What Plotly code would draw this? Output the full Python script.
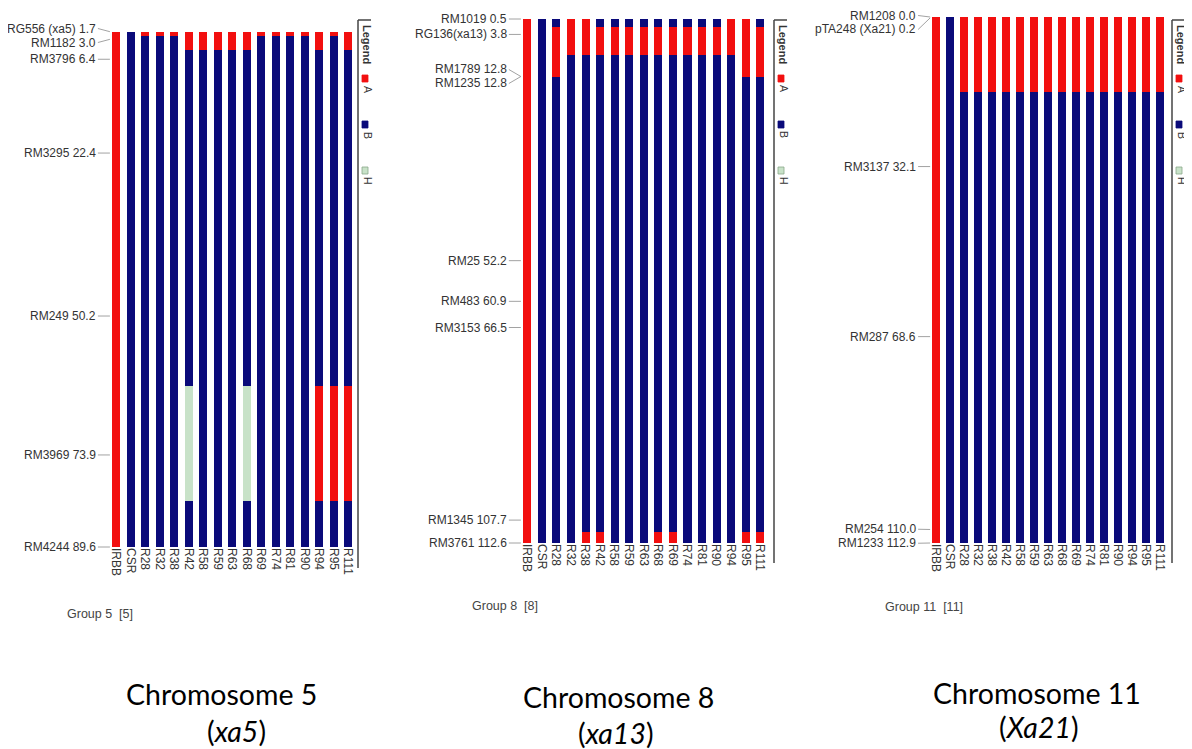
import plotly.graph_objects as go

W, H = 1192, 749
PAGE_OFFSET = 8  # default body margin of the html page

# ---------------- data ----------------
LINES = ["IRBB", "CSR", "R28", "R32", "R38", "R42", "R58", "R59", "R63",
         "R68", "R69", "R74", "R81", "R90", "R94", "R95", "R111"]

CHR5_MARKERS = ["RG556 (xa5)", "RM1182", "RM3796", "RM3295", "RM249", "RM3969", "RM4244"]
CHR5_CM = [1.7, 3.0, 6.4, 22.4, 50.2, 73.9, 89.6]
CHR5_GENO = ["AAAAAAA", "BBBBBBB", "ABBBBBB", "ABBBBBB", "ABBBBBB", "AABBBHB",
             "AABBBBB", "AABBBBB", "AABBBBB", "AABBBHB", "ABBBBBB", "ABBBBBB",
             "ABBBBBB", "ABBBBBB", "AABBBAB", "ABBBBAB", "AABBBAB"]

CHR8_MARKERS = ["RM1019", "RG136(xa13)", "RM1789", "RM1235", "RM25", "RM483",
                "RM3153", "RM1345", "RM3761"]
CHR8_CM = [0.5, 3.8, 12.8, 12.8, 52.2, 60.9, 66.5, 107.7, 112.6]
CHR8_GENO = ["AAAAAAAAA", "BBBBBBBBB", "BAABBBBBB", "AABBBBBBB", "AABBBBBBA",
             "BABBBBBBA", "BABBBBBBB", "BABBBBBBB", "BABBBBBBB", "BABBBBBBA",
             "BABBBBBBA", "BABBBBBBB", "BABBBBBBB", "BABBBBBBB", "AABBBBBBB",
             "AAABBBBBA", "BAABBBBBA"]

CHR11_MARKERS = ["RM1208", "pTA248 (Xa21)", "RM3137", "RM287", "RM254", "RM1233"]
CHR11_CM = [0.0, 0.2, 32.1, 68.6, 110.0, 112.9]
CHR11_GENO = ["AAAAAA", "BBBBBB", "AABBBB", "AABBBB", "AABBBB", "AABBBB",
              "AABBBB", "AABBBB", "AABBBB", "AABBBB", "AABBBB", "AABBBB",
              "AABBBB", "AABBBB", "AABBBB", "AABBBB", "AABBBB"]

GROUP_LABELS = ["Group 5\u00a0\u00a0[5]", "Group 8\u00a0\u00a0[8]", "Group 11\u00a0\u00a0[11]"]
TITLES = ["Chromosome 5", "Chromosome 8", "Chromosome 11"]
GENES = ["xa5", "xa13", "Xa21"]

GENOTYPES = ["A", "B", "H"]
GENO_COLORS = ["#F20F0F", "#0A0A7A", "#C8E2C8"]

# ---------------- layout (pixels, as seen in the window) ----------------
PANELS = [
    dict(x0=108.75, x1=355.25, y0=31.7, y1=547, lx=358, ly0=20, ly1=568,
         group=(65, 614), title=(221, 694), gene=(236, 731)),
    dict(x0=519.7, x1=767.3, y0=19, y1=543, lx=774, ly0=20, ly1=563,
         group=(470, 606), title=(618, 697), gene=(616, 733)),
    dict(x0=929, x1=1167, y0=17, y1=543, lx=1172, ly0=20, ly1=563,
         group=(883, 607), title=(1037, 693), gene=(1039, 727)),
]
DATA = [(CHR5_MARKERS, CHR5_CM, CHR5_GENO),
        (CHR8_MARKERS, CHR8_CM, CHR8_GENO),
        (CHR11_MARKERS, CHR11_CM, CHR11_GENO)]

TXT = "#333333"
FONT = "Liberation Sans, Arial, sans-serif"


def px(x):
    return (x - PAGE_OFFSET) / W


def py(y):
    return 1 - (y - PAGE_OFFSET) / H


def spread(pix, gap, lo):
    clusters = [[p] for p in pix]
    changed = True
    while changed:
        changed = False
        for i in range(len(clusters) - 1):
            a, b = clusters[i], clusters[i + 1]
            ca, cb = sum(a) / len(a), sum(b) / len(b)
            if (cb - (len(b) - 1) * gap / 2) - (ca + (len(a) - 1) * gap / 2) < gap - 1e-9:
                clusters[i] = a + b
                del clusters[i + 1]
                changed = True
                break
    out = []
    for c in clusters:
        m = sum(c) / len(c)
        n = len(c)
        for k in range(n):
            out.append(m + (k - (n - 1) / 2) * gap)
    # keep labels inside the visible page
    out[0] = max(out[0], lo)
    for i in range(1, len(out)):
        out[i] = max(out[i], out[i - 1] + gap)
    return out


fig = go.Figure()
annotations = []
shapes = []
layout = {}

for k, (panel, (markers, cm, geno)) in enumerate(zip(PANELS, DATA)):
    n = k + 1
    xa = "x" if n == 1 else f"x{n}"
    ya = "y" if n == 1 else f"y{n}"
    segs = {g: dict(x=[], base=[], len=[]) for g in GENOTYPES}
    for line, gs in zip(LINES, geno):
        bounds = []
        for i in range(len(cm)):
            s = cm[0] if i == 0 else (cm[i - 1] + cm[i]) / 2
            e = cm[-1] if i == len(cm) - 1 else (cm[i] + cm[i + 1]) / 2
            bounds.append((gs[i], s, e))
        merged = []
        for g, s, e in bounds:
            if merged and merged[-1][0] == g:
                merged[-1][2] = e
            else:
                merged.append([g, s, e])
        for g, s, e in merged:
            if e > s:
                segs[g]["x"].append(line)
                segs[g]["base"].append(s)
                segs[g]["len"].append(e - s)
    for g, col in zip(GENOTYPES, GENO_COLORS):
        if segs[g]["x"]:
            fig.add_trace(go.Bar(x=segs[g]["x"], y=segs[g]["len"], base=segs[g]["base"],
                                 marker=dict(color=col, line=dict(width=0)),
                                 width=0.55, xaxis=xa, yaxis=ya, showlegend=False,
                                 hoverinfo="skip"))
    eps = 1e-4
    layout["xaxis" if n == 1 else f"xaxis{n}"] = dict(
        domain=[px(panel["x0"]), px(panel["x1"])], anchor=ya, type="category",
        categoryorder="array", categoryarray=LINES, range=[-0.5, len(LINES) - 0.5],
        tickangle=90, tickfont=dict(size=12, color=TXT, family=FONT),
        showgrid=False, zeroline=False, showline=False, ticks="")
    layout["yaxis" if n == 1 else f"yaxis{n}"] = dict(
        domain=[py(panel["y1"]), py(panel["y0"])], anchor=xa,
        range=[cm[-1] + eps, cm[0] - eps], visible=False)

    scale = (panel["y1"] - panel["y0"]) / (cm[-1] - cm[0])
    mpx = [panel["y0"] + (c - cm[0]) * scale for c in cm]
    lpx = spread(mpx, 14, 15.5)
    for name, c, m, l in zip(markers, cm, mpx, lpx):
        annotations.append(dict(
            x=-0.42, y=c, xref=xa, yref=ya, text=f"{name} {c:.1f}",
            showarrow=True, arrowhead=0, arrowwidth=0.8, arrowcolor="#8a8a8a",
            standoff=0, ax=-12, ay=l - m, xanchor="right", yanchor="middle",
            font=dict(size=12, color=TXT, family=FONT)))

    lx = panel["lx"]
    shapes.append(dict(type="line", xref="paper", yref="paper",
                       x0=px(lx), x1=px(lx), y0=py(panel["ly0"]), y1=py(panel["ly1"]),
                       line=dict(color="#444444", width=1.5)))
    shapes.append(dict(type="line", xref="paper", yref="paper",
                       x0=px(lx), x1=px(lx + 13), y0=py(panel["ly0"]), y1=py(panel["ly0"]),
                       line=dict(color="#444444", width=1.5)))
    annotations.append(dict(x=px(lx + 9), y=py(44), xref="paper", yref="paper",
                            text="<b>Legend</b>", textangle=90, showarrow=False,
                            xanchor="center", yanchor="middle",
                            font=dict(size=11, color=TXT, family=FONT)))
    for j, (g, col) in enumerate(zip(GENOTYPES, GENO_COLORS)):
        by = 75 + j * 46
        shapes.append(dict(type="rect", xref="paper", yref="paper",
                           x0=px(lx + 4), x1=px(lx + 10), y0=py(by), y1=py(by + 7),
                           fillcolor=col, line=dict(color=col if g != "H" else "#8aa88a", width=0.8)))
        annotations.append(dict(x=px(lx + 10), y=py(by + 14), xref="paper", yref="paper",
                                text=g, textangle=90, showarrow=False,
                                xanchor="center", yanchor="middle",
                                font=dict(size=10.5, color=TXT, family=FONT)))

    gx, gy = panel["group"]
    annotations.append(dict(x=px(gx), y=py(gy), xref="paper", yref="paper",
                            text=GROUP_LABELS[k], showarrow=False, xanchor="left",
                            yanchor="middle", font=dict(size=12.5, color="#444444", family=FONT)))
    tx, ty = panel["title"]
    annotations.append(dict(x=px(tx), y=py(ty), xref="paper", yref="paper",
                            text=TITLES[k], showarrow=False, xanchor="center",
                            yanchor="middle", font=dict(size=28.5, color="black", family="Lato")))
    gx2, gy2 = panel["gene"]
    annotations.append(dict(x=px(gx2), y=py(gy2), xref="paper", yref="paper",
                            text=f"(<i>{GENES[k]}</i>)", showarrow=False, xanchor="center",
                            yanchor="middle", font=dict(size=28.5, color="black", family="Lato")))

fig.update_layout(width=W, height=H, margin=dict(l=0, r=0, t=0, b=0),
                  paper_bgcolor="white", plot_bgcolor="white", barmode="overlay",
                  bargap=0, annotations=annotations, shapes=shapes, **layout)

fig.write_html("out.html")
